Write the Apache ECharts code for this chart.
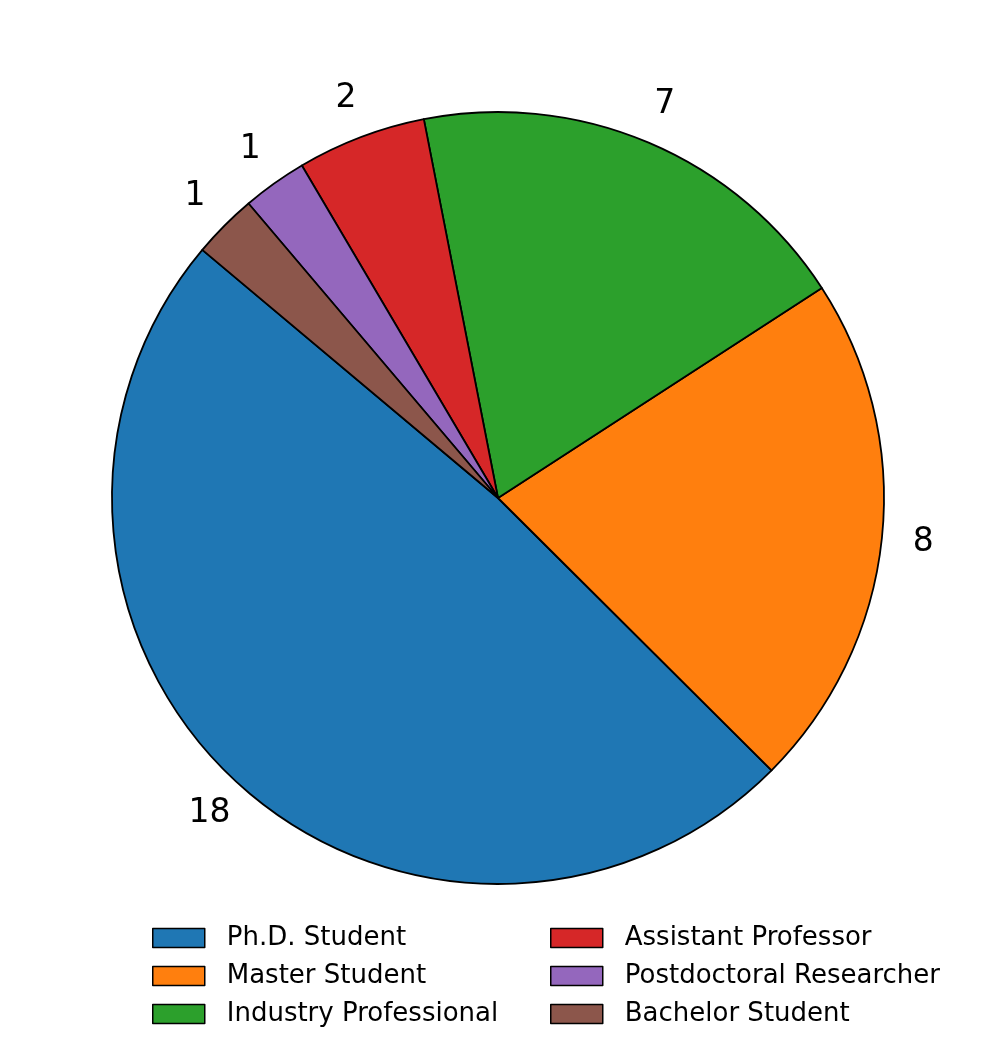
<!DOCTYPE html>
<html style="height: 100%">
<head>
    <meta charset="utf-8">
    <script type="text/javascript" src="https://cdn.jsdelivr.net/npm/echarts@6.0.0/dist/echarts.min.js"></script>
</head>
<body style="height: 100%; margin: 0; background-color: #fff;">
    <div id="main" style="width: 996px;height: 1055px;"></div>
<script>
// roles of participants, counter-clockwise from the upper left
var roles = ['Ph.D. Student', 'Master Student', 'Industry Professional',
             'Assistant Professor', 'Postdoctoral Researcher', 'Bachelor Student'];
var counts = [18, 8, 7, 2, 1, 1];
var colors = ['#1f77b4', '#ff7f0e', '#2ca02c', '#d62728', '#9467bd', '#8c564b'];

var fontName = 'DejaVu Sans';
var chartDom = document.getElementById('main');
var myChart = echarts.init(chartDom);

var pieData = roles.map(function (r, i) {
    return { name: r, value: counts[i], itemStyle: { color: colors[i] } };
});
// transparent ring just outside the pie, only for the value labels (1.1 r)
var labelData = roles.map(function (r, i) {
    return { name: 'lbl' + i, value: counts[i] };
});

var legendCommon = {
    orient: 'vertical',
    top: 925,
    padding: 0,
    itemWidth: 52,
    itemHeight: 19,
    itemGap: 12,
    icon: 'rect',
    selectedMode: false,
    itemStyle: { borderColor: '#000', borderWidth: 1.5 },
    textStyle: { fontFamily: fontName, fontSize: 26, color: '#000', lineHeight: 24, padding: [0, 0, 0, 17] }
};

var option = {
    animation: false,
    legend: [
        Object.assign({}, legendCommon, { left: 152, data: roles.slice(0, 3) }),
        Object.assign({}, legendCommon, { left: 550, data: roles.slice(3) })
    ],
    series: [
        {
            type: 'pie',
            center: [498, 498],
            radius: [0, 386],
            startAngle: 140,
            clockwise: false,
            avoidLabelOverlap: false,
            data: pieData,
            itemStyle: { borderColor: '#000', borderWidth: 1.8 },
            label: { show: false },
            labelLine: { show: false },
            emphasis: { disabled: true }
        },
        {
            type: 'pie',
            center: [498, 498],
            radius: [386, 463],
            startAngle: 140,
            clockwise: false,
            silent: true,
            avoidLabelOverlap: false,
            data: labelData,
            itemStyle: { color: 'rgba(0,0,0,0)', borderWidth: 0 },
            label: {
                show: true,
                position: 'inside',
                formatter: '{c}',
                fontFamily: fontName,
                fontSize: 33,
                color: '#000'
            },
            labelLine: { show: false }
        }
    ]
};

myChart.setOption(option);
</script>
</body>
</html>
